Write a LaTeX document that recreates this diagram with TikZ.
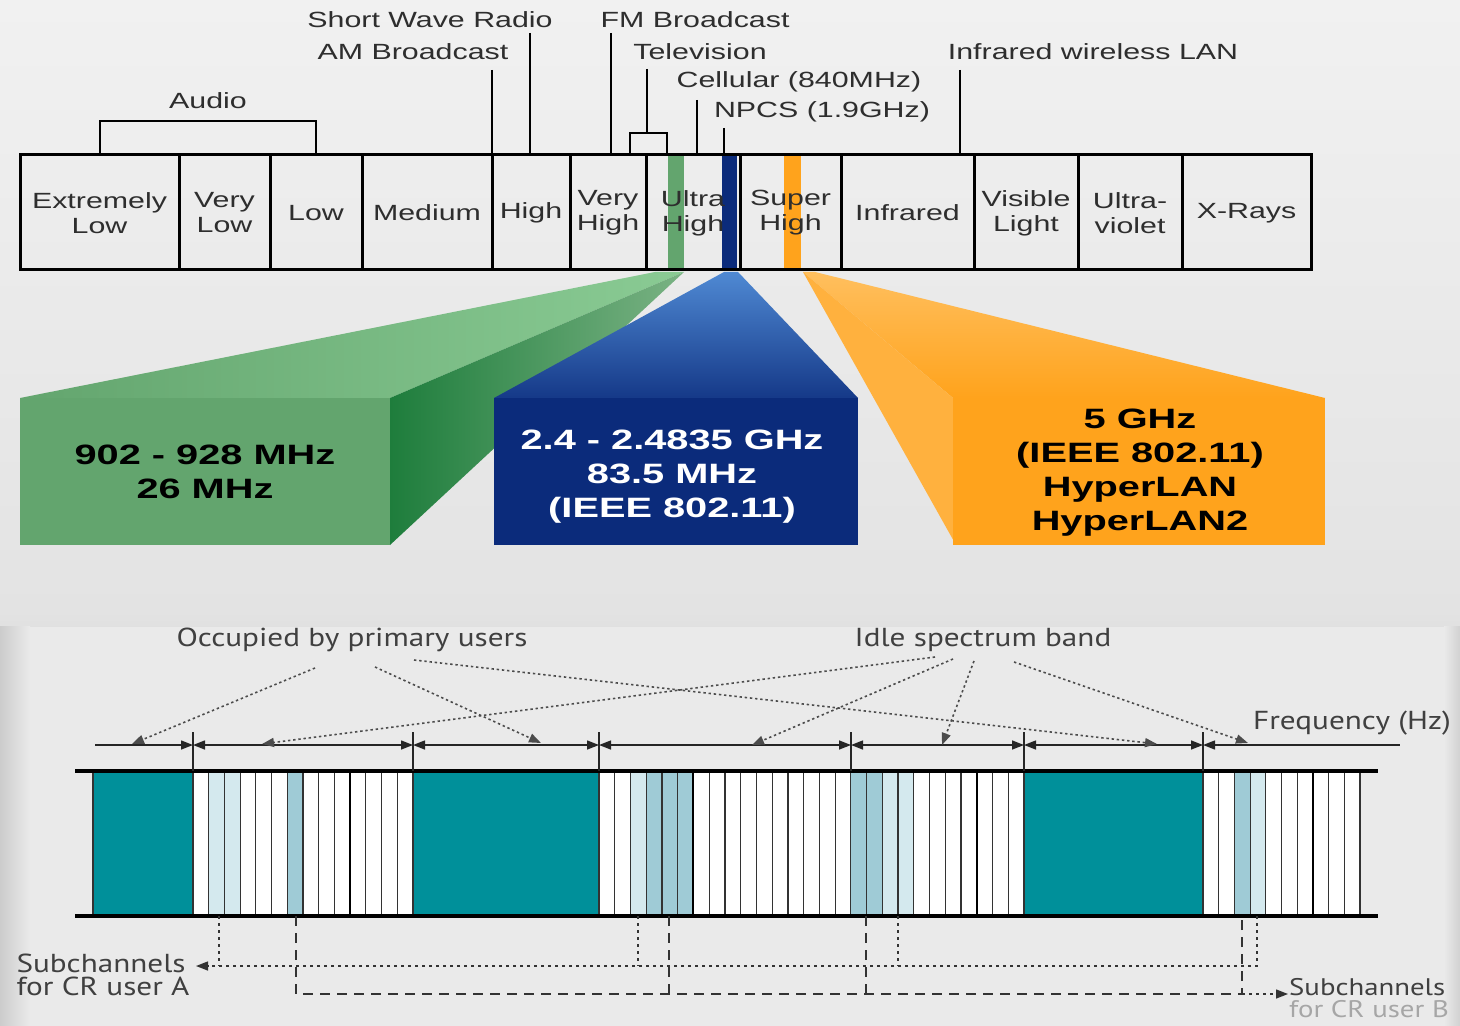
\documentclass[tikz,border=0pt]{standalone}
\usepackage{fontspec}
\setmainfont{Liberation Sans}
\newfontfamily\crfont{PT Sans}
\usetikzlibrary{arrows.meta}

\definecolor{bgtop}{HTML}{F1F1F1}
\definecolor{bgmid}{HTML}{E3E3E3}
\definecolor{panelgray}{HTML}{EAEAEA}
\definecolor{inkgray}{HTML}{2E2E2E}
\definecolor{ismgreen}{HTML}{63A56E}
\definecolor{ismgreenlt}{HTML}{8ACB94}
\definecolor{ismgreendk}{HTML}{1E7D3C}
\definecolor{wlanblue}{HTML}{0B2B7B}
\definecolor{wlanbluelt}{HTML}{4F89D3}
\definecolor{hiporange}{HTML}{FFA31C}
\definecolor{hiporangelt}{HTML}{FFBF5E}
\definecolor{puteal}{HTML}{00909A}
\definecolor{crlite}{HTML}{D4E9EE}
\definecolor{crmid}{HTML}{9FCBD6}

\begin{document}
\begin{tikzpicture}
  [x=0.5pt,y=-0.5pt,
   toplbl/.style={font=\fontsize{11}{12.5}\selectfont,text=inkgray,inner sep=0pt,xscale=1.38,align=center},
   leader/.style={line width=1.4pt},
   bandline/.style={line width=1.5pt},
   boxtxt/.style={font=\bfseries\fontsize{14}{17}\selectfont,inner sep=0pt,xscale=1.42,align=center},
   crlbl/.style={font=\crfont\fontsize{13}{11.5}\selectfont,text=black!75,inner sep=0pt,xscale=1.2,align=left},
   subline/.style={line width=0.6pt,draw=black!80},
   dimline/.style={line width=0.7pt,draw=black!85},
   headarr/.style={-{Triangle[length=6pt,width=4.5pt]}},
   hint/.style={dash pattern=on 1.2pt off 1.4pt,line width=0.8pt,draw=black!70},
   userA/.style={dash pattern=on 1.5pt off 2pt,line width=0.7pt,draw=black!80},
   userB/.style={dash pattern=on 5pt off 3.5pt,line width=0.7pt,draw=black!80}]

  \clip (0,0) rectangle (1460,1026);

  % background
  \shade[top color=bgtop,bottom color=bgmid] (0,0) rectangle (1460,615);
  \fill[panelgray] (0,612) rectangle (1460,1026);
  \shade[top color=bgmid,bottom color=black!12] (0,612) rectangle (1460,626);
  \shade[left color=black!20,right color=panelgray] (0,626) rectangle (30,1026);
  \shade[left color=panelgray,right color=black!18] (1444,626) rectangle (1460,1026);

  % spectrum band
  \fill[ismgreen] (668,155) rectangle (684,270);
  \fill[hiporange] (784,155) rectangle (801,270);
  \fill[wlanblue] (722,155) rectangle (737,270);
  \draw[bandline] (20,155) rectangle (1311,270);
  \foreach \x in {179,270,362,492,570,646,740,841,974,1078,1182}
    \draw[bandline] (\x,155) -- (\x,270);

  \foreach \xa/\xb/\txt/\nm in {20/179/{Extremely\\Low}/elf, 179/270/{Very\\Low}/vlf,
      270/362/Low/lf, 362/492/Medium/mf, 492/570/High/hf, 570/646/{Very\\High}/vhf,
      646/740/{Ultra\\High}/uhf, 740/841/{Super\\High}/shf, 841/974/Infrared/ir,
      974/1078/{Visible\\Light}/vis, 1078/1182/{Ultra-\\violet}/uv, 1182/1311/X-Rays/xr}
    \node[toplbl] (\nm) at ({(\xa+\xb)/2},213) {\txt};

  % services above the band
  \draw[leader] (100,155) -- (100,121) -- (316,121) -- (316,155);
  \node[toplbl] (audio) at (208,101) {Audio};
  \draw[leader] (492,70) -- (492,155);
  \node[toplbl] (am) at (413,52) {AM Broadcast};
  \draw[leader] (530,33) -- (530,155);
  \node[toplbl] (sw) at (430,20) {Short Wave Radio};
  \draw[leader] (611,33) -- (611,155);
  \node[toplbl] (fm) at (695,20) {FM Broadcast};
  \draw[leader] (647,69) -- (647,133);
  \draw[leader] (630,155) -- (630,133) -- (667,133) -- (667,155);
  \node[toplbl] (tv) at (700,52) {Television};
  \draw[leader] (697,100) -- (697,155);
  \node[toplbl] (cell) at (799,82) {Cellular (840MHz)};
  \draw[leader] (724,128) -- (724,155);
  \node[toplbl] (npcs) at (822,112) {NPCS (1.9GHz)};
  \draw[leader] (960,70) -- (960,155);
  \node[toplbl] (irlan) at (1093,52) {Infrared wireless LAN};

  % 902-928 MHz
  \shade[left color=ismgreen,right color=ismgreenlt] (20,398) -- (390,398) -- (684,272) -- (655,272) -- cycle;
  \shade[left color=ismgreendk,right color=ismgreen!85!white] (390,398) -- (684,272) -- (390,545) -- cycle;
  \fill[ismgreen] (20,398) rectangle (390,545);
  \node[boxtxt] (ism) at (205,472) {902 - 928 MHz\\26 MHz};

  % 2.4 GHz
  \shade[top color=wlanbluelt,bottom color=wlanblue!85!wlanbluelt] (724,272) -- (738,272) -- (858,398) -- (494,398) -- cycle;
  \fill[wlanblue] (494,398) rectangle (858,545);
  \node[boxtxt,text=white] (wlan) at (672,477) {2.4 - 2.4835 GHz\\83.5 MHz\\(IEEE 802.11)};

  % 5 GHz
  \shade[top color=hiporangelt,bottom color=hiporange] (803,272) -- (815,272) -- (1325,398) -- (953,398) -- cycle;
  \fill[hiporange!85!white] (803,272) -- (953,398) -- (956,545) -- cycle;
  \fill[hiporange] (953,398) rectangle (1325,545);
  \node[boxtxt] (hiper) at (1140,473) {5 GHz\\(IEEE 802.11)\\HyperLAN\\HyperLAN2};

  % primary users and subchannels
  \foreach \xa/\xb in {93/193,413/599,1024/1203}
    \fill[puteal] (\xa,771) rectangle (\xb,916);
  \draw[subline] (93,771) -- (93,916);
  \foreach \s/\e/\n in {193/413/14,599/1024/27,1203/1360/10}
    \fill[white] (\s,771) rectangle (\e,916);
  \foreach \s/\e/\n/\k/\c in {193/413/14/2/crlite, 193/413/14/3/crlite, 193/413/14/7/crmid,
      599/1024/27/3/crlite, 599/1024/27/4/crmid, 599/1024/27/5/crmid, 599/1024/27/6/crmid,
      599/1024/27/17/crmid, 599/1024/27/18/crmid, 599/1024/27/19/crlite, 599/1024/27/20/crlite,
      1203/1360/10/3/crmid, 1203/1360/10/4/crlite}
    \fill[\c] ({\s+(\k-1)*(\e-\s)/\n},771) rectangle ({\s+\k*(\e-\s)/\n},916);
  \foreach \s/\e/\n in {193/413/14,599/1024/27,1203/1360/10}
    \foreach \i in {0,...,\n}
      \draw[subline] ({\s+\i*(\e-\s)/\n},771) -- ({\s+\i*(\e-\s)/\n},916);
  \foreach \x in {350,693,977,1313}
    \draw[line width=1.3pt] (\x,771) -- (\x,916);
  \draw[line width=2pt] (75,771) -- (1378,771);
  \draw[line width=2pt] (75,916) -- (1378,916);

  % band widths
  \foreach \x in {193,413,599,851,1024,1203}
    \draw[dimline] (\x,732) -- (\x,771);
  \draw[dimline,headarr] (95,745) -- (193,745);
  \foreach \xa/\xb in {193/413,413/599,599/851,851/1024,1024/1203}
    \draw[dimline,{Triangle[length=6pt,width=4.5pt]}-{Triangle[length=6pt,width=4.5pt]}] (\xa,745) -- (\xb,745);
  \draw[dimline,{Triangle[length=6pt,width=4.5pt]}-] (1203,745) -- (1400,745);
  \node[crlbl] (freq) at (1352,723) {Frequency (Hz)};

  \node[crlbl] (occ) at (352,640) {Occupied by primary users};
  \draw[hint,headarr] (315,668) -- (132,744);
  \draw[hint,headarr] (375,667) -- (541,743);
  \draw[hint,headarr] (414,660) -- (1157,744);

  \node[crlbl] (idle) at (983,640) {Idle spectrum band};
  \draw[hint,headarr] (935,657) -- (262,744);
  \draw[hint,headarr] (953,659) -- (752,745);
  \draw[hint,headarr] (974,661) -- (942,745);
  \draw[hint,headarr] (1014,662) -- (1248,743);

  % CR users
  \node[crlbl] (subA) at (103,975) {Subchannels\\for CR user A};
  \coordinate (aEnd) at (196,966);
  \foreach \x in {219,638,898}
    \draw[userA] (\x,916) -- (\x,966);
  \draw[userA,headarr] (1257,916) |- (aEnd);

  \node[crlbl,font=\crfont\fontsize{12}{11}\selectfont] (subB) at (1369,998) {Subchannels\\\textcolor{black!35}{for CR user B}};
  \coordinate (bEnd) at (1288,994);
  \foreach \x in {669,866}
    \draw[userB] (\x,916) -- (\x,994);
  \draw[userB] (296,916) |- (1242,994) -- (1242,916);
  \draw[userA,headarr] (1242,994) -- (bEnd);
\end{tikzpicture}
\end{document}
